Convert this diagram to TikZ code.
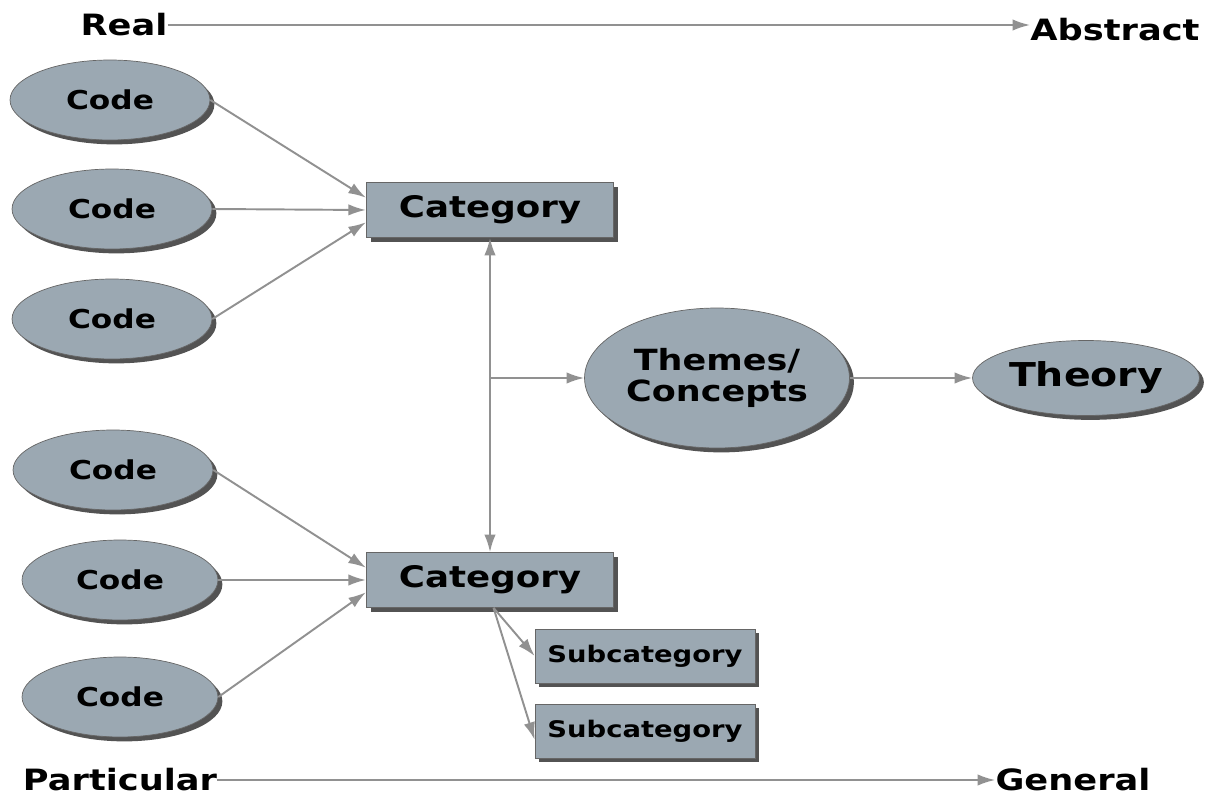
\documentclass[tikz,border=0pt]{standalone}
\usepackage{fontspec}
\setmainfont{DejaVu Sans}[FakeStretch=1.2]
\usetikzlibrary{shapes.geometric, arrows.meta, shadows}

\definecolor{nodegray}{RGB}{155,168,178}
\definecolor{linegray}{RGB}{145,145,145}

\begin{document}
\begin{tikzpicture}[
    x=0.02cm, y=-0.02cm,
    code/.style={draw=gray!80!black, ellipse, fill=nodegray, inner sep=0pt, minimum width=4cm, minimum height=1.6cm, font=\fontsize{14.8}{17}\selectfont\bfseries, drop shadow={shadow xshift=2.5pt, shadow yshift=-2.5pt, fill=black!75, opacity=0.9}},
    cat/.style={draw=gray!80!black, rectangle, fill=nodegray, inner sep=0pt, minimum width=4.95cm, minimum height=1.1cm, font=\fontsize{16.9}{20}\selectfont\bfseries, drop shadow={shadow xshift=2.5pt, shadow yshift=-2.5pt, fill=black!75, opacity=0.9}},
    subbox/.style={cat, minimum width=4.4cm, minimum height=1.08cm, font=\fontsize{13}{16}\selectfont\bfseries},
    theme/.style={code, align=center, font=\fontsize{16.6}{18}\selectfont\bfseries},
    pole/.style={inner sep=0pt, font=\fontsize{16.7}{20}\selectfont\bfseries},
    tip/.style={-{Latex[length=10pt, width=6.5pt]}},
    arrow/.style={tip, draw=linegray, fill=linegray, line width=1.1pt}
]
\useasboundingbox (0,0) rectangle (1215,797);

% Nodes
\node (real) [pole] at (124,25) {Real};
\node (abstract) [pole] at (1115,30) {Abstract};
\node (particular) [pole] at (120,780) {Particular};
\node (general) [pole] at (1073,780) {General};

\node (c1) [code] at (110,100) {Code};
\node (c2) [code] at (112,209) {Code};
\node (c3) [code] at (112,319) {Code};
\node (c4) [code] at (113,470) {Code};
\node (c5) [code, minimum width=3.92cm] at (120,580) {Code};
\node (c6) [code, minimum width=3.92cm] at (120,697) {Code};

\node (cat1) [cat] at (490,210) {Category};
\node (cat2) [cat] at (490,580) {Category};
\node (sub1) [subbox] at (645,656) {Subcategory};
\node (sub2) [subbox] at (645,731) {Subcategory};

\node (themes) [theme, minimum width=5.3cm, minimum height=2.8cm] at (717,378) {Themes/\\Concepts};
\node (theory) [code, minimum width=4.54cm, minimum height=1.5cm, font=\fontsize{18.7}{22}\selectfont\bfseries] at (1086,378) {Theory};

% Arrows
\draw [arrow] (real.east) -- (abstract.west |- real.east);
\draw [arrow] (particular.east) -- (general.west |- particular.east);

\draw [arrow] (c1.east) -- ([yshift=7pt]cat1.west);
\draw [arrow] (c2.east) -- (cat1.west);
\draw [arrow] (c3.east) -- ([yshift=-7pt]cat1.west);
\draw [arrow] (c4.east) -- ([yshift=7pt]cat2.west);
\draw [arrow] (c5.east) -- (cat2.west);
\draw [arrow] (c6.east) -- ([yshift=-7pt]cat2.west);

\draw [arrow, {Latex[length=10pt, width=6.5pt]}-{Latex[length=10pt, width=6.5pt]}] (cat1.south) -- (cat2.north);
\draw [arrow] (cat1.south |- themes.west) -- (themes.west);
\draw [arrow] (themes.east) -- (theory.west);

\draw [arrow] ([xshift=2pt]cat2.south) -- (sub1.west);
\draw [arrow] ([xshift=2pt]cat2.south) -- ([yshift=-5pt]sub2.west);

\end{tikzpicture}
\end{document}
